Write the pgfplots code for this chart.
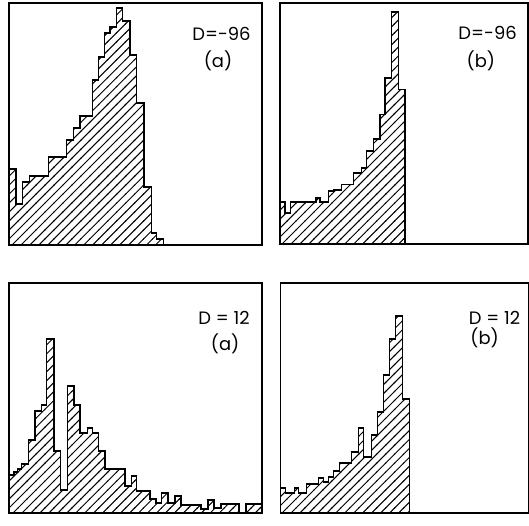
\documentclass[border=0pt]{standalone}
\usepackage{pgfplots}
\pgfplotsset{compat=1.18}
\usetikzlibrary{patterns}
\usepackage{fontspec}
\setmainfont{Poppins}
\pgfdeclarepatternformonly{hatch}{\pgfqpoint{-1pt}{-1pt}}{\pgfqpoint{10pt}{10pt}}{\pgfqpoint{9pt}{9pt}}{%
  \pgfsetlinewidth{1pt}%
  \pgfpathmoveto{\pgfqpoint{-0.5pt}{-0.5pt}}%
  \pgfpathlineto{\pgfqpoint{9.5pt}{9.5pt}}%
  \pgfusepath{stroke}}
\begin{document}
\begin{tikzpicture}
\useasboundingbox (0,0) rectangle (529bp,526bp);
\pgfplotsset{
 panel/.style={scale only axis, anchor=south west, xtick=\empty, ytick=\empty,
   xmin=0, ymin=0, axis line style={line width=1.1pt}},
 hist/.style={const plot mark left, draw=black, line width=1.2pt,
   pattern=hatch, pattern color=black},
}
\tikzset{
 lbl/.style={font=\fontsize{18}{21}\selectfont, inner sep=0pt}
}
% top left
\begin{axis}[panel, at={(9bp,281bp)}, width=253bp, height=242bp, xmax=253, ymax=242]
\addplot[hist] coordinates {(0,76) (7,41) (13.7,63) (20.3,69) (39.3,88) (57.7,105)
 (64.3,117) (71,129) (83.7,165) (89.3,188) (95.3,212) (101,218) (107.7,237)
 (113.7,224) (121,190) (127.7,142) (135,58) (142.7,12) (147.7,6) (154.3,6)} \closedcycle;
\node[lbl] at (rel axis cs:0.84,0.874) {D=-96};
\node[lbl] at (rel axis cs:0.826,0.76) {(a)};
\end{axis}
% top right
\begin{axis}[panel, at={(280bp,282bp)}, width=248bp, height=241bp, xmax=248, ymax=241]
\addplot[hist] coordinates {(0,42) (5,31) (10.5,42) (36,46) (40,42) (48.3,53) (53.3,54)
 (61.7,59.5) (73.3,71) (81.7,76) (86.7,93) (93.3,105) (100,129.5) (105,166)
 (111.7,232) (118.3,154.5) (125,154.5)} \closedcycle;
\node[lbl] at (rel axis cs:0.837,0.874) {D=-96};
\node[lbl] at (rel axis cs:0.81,0.76) {(b)};
\end{axis}
% bottom left
\begin{axis}[panel, at={(9bp,13bp)}, width=253bp, height=230bp, xmax=253, ymax=230]
\addplot[hist] coordinates {(0,38) (5,41) (8.5,44) (12.7,49) (19.3,73) (26,102)
 (32.7,108) (37.7,174) (45,62) (51.7,23) (58.3,127) (65,108) (71,80) (78.3,85)
 (83.7,80) (89.3,62) (96,44) (116,27) (122.7,37) (127.7,22) (141,14) (147,10)
 (152.7,20) (159,10) (166,17) (172,8) (192,4) (199,13) (205,5) (212,9) (230,0)
 (237,9) (253,9)} \closedcycle;
\node[lbl] at (rel axis cs:0.85,0.85) {D = 12};
\node[lbl] at (rel axis cs:0.854,0.735) {(a)};
\end{axis}
% bottom right
\begin{axis}[panel, at={(280.7bp,13bp)}, width=247.5bp, height=230bp, xmax=248, ymax=230]
\addplot[hist] coordinates {(0,25) (5,20) (13.7,25) (17.7,20) (26,29) (37.7,35)
 (42.7,31) (47.7,36) (52.7,42) (59.3,50) (71,61) (77.7,85) (83.3,56) (91,78)
 (96.7,101) (103.3,138) (109.3,174) (115,197) (121.7,114) (129.3,114)} \closedcycle;
\node[lbl] at (rel axis cs:0.864,0.85) {D = 12};
\node[lbl] at (rel axis cs:0.824,0.76) {(b)};
\end{axis}
\end{tikzpicture}
\end{document}
